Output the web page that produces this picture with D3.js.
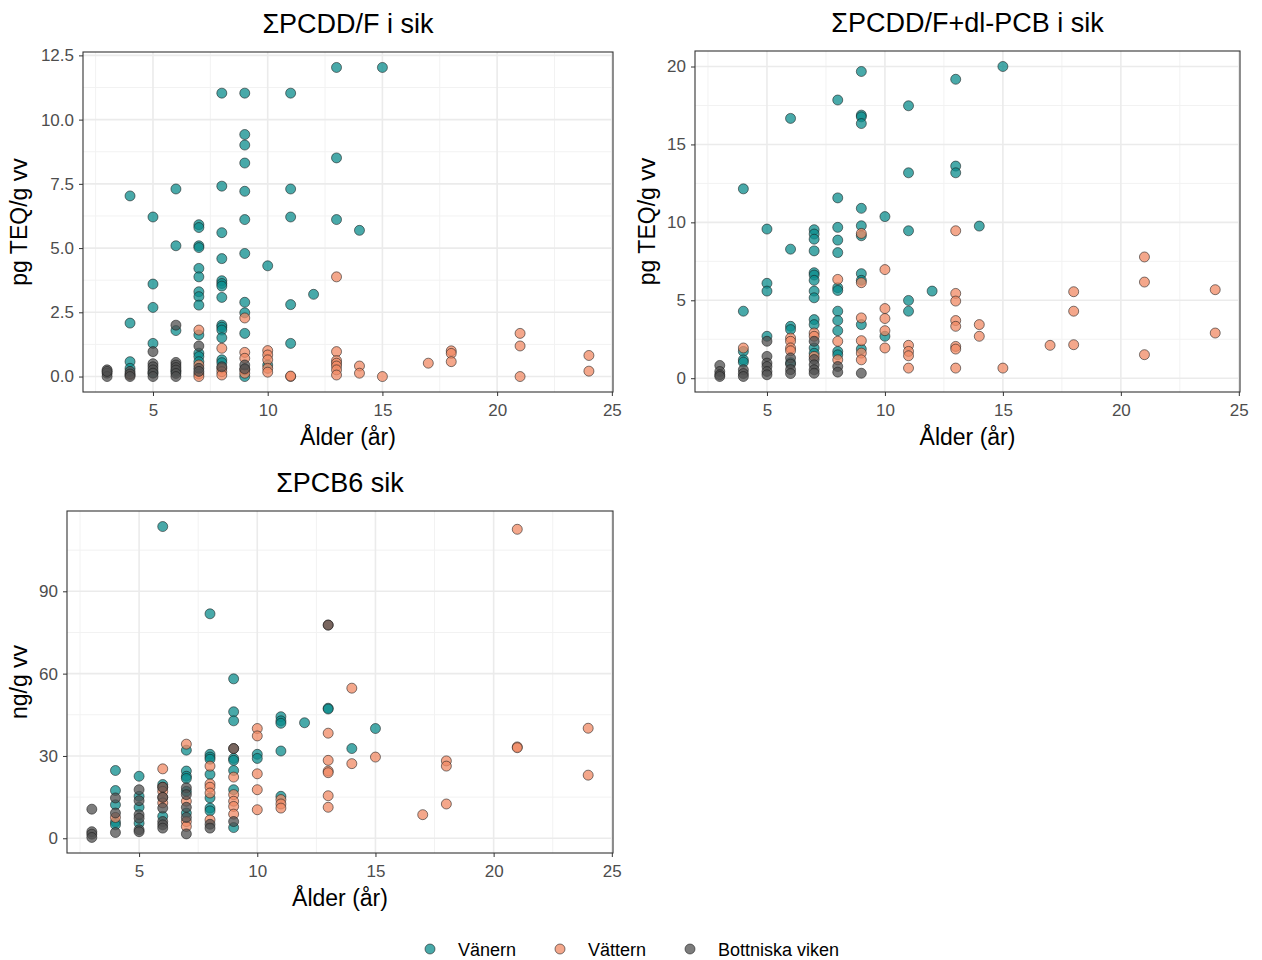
<!DOCTYPE html>
<html>
<head>
<meta charset="utf-8">
<script src="https://cdn.jsdelivr.net/npm/d3@7"></script>
<style>
body { margin:0; background:#fff; }
text { font-family: "Liberation Sans", Arial, sans-serif; }
</style>
</head>
<body>
<svg id="chart" width="1262" height="960"></svg>
<script>
// series names + colours
var groups = ["Vänern", "Vättern", "Bottniska viken"];
var fills = ["#0b8c8c", "#f08a64", "#505050"];

// ΣPCDD/F i sik, [age, pg TEQ/g vv]
var pcdd_vanern = [[4,7.03],[4,2.08],[4,0.58],[4,0.32],[5,6.21],[5,3.6],[5,2.69],[5,1.29],[5,0.15],
 [6,7.3],[6,5.09],[6,1.79],[6,0.2],[7,5.91],[7,5.8],[7,5.09],[7,5.02],[7,4.21],[7,3.88],[7,3.3],[7,3.11],[7,2.78],
 [7,1.62],[7,0.91],[7,0.78],[7,0.58],[8,11.03],[8,7.41],[8,5.6],[8,4.59],[8,3.73],[8,3.62],[8,3.52],[8,3.08],
 [8,2.0],[8,1.92],[8,1.81],[8,1.51],[8,0.65],[8,0.54],[9,11.03],[9,9.42],[9,9.01],[9,8.31],[9,7.21],[9,6.11],
 [9,4.79],[9,2.89],[9,2.48],[9,1.68],[9,0.0],[10,4.31],[10,0.45],[11,11.03],[11,7.3],[11,6.21],[11,2.8],[11,1.29],
 [12,3.2],[13,12.03],[13,8.51],[13,6.11],[14,5.69],[15,12.03]];
var pcdd_vattern = [[4,0.06],[7,1.81],[7,0.45],[7,0.1],[7,0.0],[8,1.1],[8,0.32],[8,0.19],[8,0.06],[9,2.28],[9,0.94],
 [9,0.71],[9,0.26],[9,0.13],[10,1.01],[10,0.84],[10,0.65],[10,0.32],[10,0.17],[11,0.0],[11,0.02],[13,3.88],[13,0.97],
 [13,0.62],[13,0.52],[13,0.41],[13,0.26],[13,0.06],[14,0.41],[14,0.13],[15,0.0],[17,0.52],[18,1.0],[18,0.9],[18,0.58],
 [21,1.68],[21,1.19],[21,0.0],[24,0.82],[24,0.21]];
var pcdd_bottniska = [[3,0.26],[3,0.13],[3,0.0],[3,0.2],[4,0.2],[4,0.1],[4,0.0],[5,0.97],[5,0.5],[5,0.38],[5,0.26],
 [5,0.13],[5,0.0],[6,2.0],[6,0.55],[6,0.45],[6,0.35],[6,0.25],[6,0.12],[6,0.0],[7,1.19],[7,0.32],[7,0.2],[8,0.38],
 [9,0.45],[9,0.3]];

// ΣPCDD/F+dl-PCB i sik
var teq_vanern = [[4,12.15],[4,4.3],[4,1.72],[4,1.18],[4,1.03],[5,9.57],[5,6.09],[5,5.59],[5,2.69],[6,16.67],[6,8.28],
 [6,3.33],[6,3.12],[6,1.0],[7,9.53],[7,9.25],[7,8.92],[7,8.17],[7,6.77],[7,6.62],[7,6.28],[7,5.59],[7,5.16],[7,3.76],
 [7,3.44],[7,1.94],[7,1.6],[8,17.85],[8,11.57],[8,9.68],[8,8.86],[8,8.06],[8,5.81],[8,5.63],[8,4.3],[8,3.7],[8,3.05],
 [8,1.72],[8,1.5],[9,19.68],[9,16.88],[9,16.77],[9,16.34],[9,10.9],[9,9.78],[9,9.14],[9,6.71],[9,6.28],[9,3.44],
 [9,1.87],[10,10.37],[10,2.69],[11,17.48],[11,13.18],[11,9.46],[11,4.99],[11,4.3],[12,5.59],[13,19.18],[13,13.61],
 [13,13.18],[14,9.76],[15,20.0]];
var teq_vattern = [[4,1.94],[6,2.58],[6,2.37],[6,1.94],[6,1.76],[7,2.9],[7,2.69],[7,1.4],[8,6.34],[8,2.37],[8,1.18],
 [9,9.29],[9,6.13],[9,3.87],[9,2.41],[9,1.61],[9,1.18],[10,6.97],[10,4.47],[10,3.83],[10,3.05],[10,1.94],[11,2.11],
 [11,1.72],[11,1.44],[11,0.65],[13,9.46],[13,5.44],[13,4.95],[13,3.7],[13,3.33],[13,2.04],[13,1.87],[13,0.65],
 [14,3.44],[14,2.69],[15,0.65],[17,2.11],[18,5.55],[18,4.3],[18,2.15],[21,7.78],[21,6.17],[21,1.51],[24,5.68],[24,2.9]];
var teq_bottniska = [[3,0.82],[3,0.43],[3,0.22],[3,0.11],[4,0.54],[4,0.3],[4,0.11],[5,2.37],[5,1.4],[5,0.97],[5,0.75],
 [5,0.43],[5,0.22],[6,1.3],[6,0.9],[6,0.55],[6,0.3],[7,2.37],[7,1.2],[7,0.86],[7,0.54],[7,0.32],[8,0.75],[8,0.39],
 [9,0.32]];

// ΣPCB6 sik, [age, ng/g vv]
var pcb_vanern = [[4,24.7],[4,17.4],[4,12.2],[4,5.9],[4,4.9],[5,22.6],[5,15.3],[5,11.3],[5,5.5],[6,113.6],[6,19.6],
 [6,8.0],[7,32.1],[7,24.5],[7,22.6],[7,21.8],[7,17.1],[7,9.2],[8,81.8],[8,30.6],[8,29.6],[8,28.8],[8,23.3],[8,14.7],
 [8,11.0],[8,10.0],[9,58.1],[9,46.1],[9,42.8],[9,29.1],[9,28.4],[9,24.7],[9,17.7],[9,3.9],[10,30.6],[10,29.1],
 [11,44.3],[11,42.8],[11,41.9],[11,31.8],[11,15.3],[12,42.1],[13,47.4],[13,47.1],[14,32.7],[15,40.0]];
var pcb_vattern = [[4,7.6],[6,25.3],[6,18.6],[6,17.1],[6,14.9],[6,12.9],[7,34.3],[7,13.5],[7,6.1],[7,4.3],[8,26.3],
 [8,19.8],[8,18.6],[8,16.5],[8,6.7],[9,32.7],[9,22.3],[9,15.9],[9,13.5],[9,11.6],[9,8.8],[10,40.0],[10,37.3],
 [10,23.5],[10,17.7],[10,10.4],[11,14.1],[11,12.5],[11,11.0],[13,77.7],[13,38.3],[13,28.4],[13,24.5],[13,23.9],
 [13,15.5],[13,11.3],[14,54.7],[14,27.2],[15,29.6],[17,8.6],[18,28.2],[18,26.3],[18,12.5],[21,112.6],[21,33.3],
 [21,33.0],[24,40.1],[24,23.0]];
var pcb_bottniska = [[3,10.6],[3,2.4],[3,1.5],[3,0.3],[4,14.7],[4,9.2],[4,2.1],[5,17.7],[5,13.7],[5,8.6],[5,7.3],
 [5,3.1],[5,2.4],[6,18.6],[6,14.9],[6,11.0],[6,6.1],[6,4.9],[6,3.7],[7,18.4],[7,15.9],[7,11.3],[7,7.6],[7,1.6],
 [8,5.1],[8,3.7],[9,32.7],[9,6.1],[13,77.7]];

var xTicks = [5, 10, 15, 20, 25];

var panels = [
 {title:"ΣPCDD/F i sik", ylab:"pg TEQ/g vv", ylabX:27, left:83, right:613, top:52, bottom:392,
  yTicks:[0,2.5,5,7.5,10,12.5], yFmt:d3.format(".1f"), data:[pcdd_vanern, pcdd_vattern, pcdd_bottniska]},
 {title:"ΣPCDD/F+dl-PCB i sik", ylab:"pg TEQ/g vv", ylabX:655, left:695, right:1240, top:51, bottom:392,
  yTicks:[0,5,10,15,20], yFmt:d3.format("d"), data:[teq_vanern, teq_vattern, teq_bottniska]},
 {title:"ΣPCB6 sik", ylab:"ng/g vv", ylabX:27, left:67, right:613, top:511, bottom:853,
  yTicks:[0,30,60,90], yFmt:d3.format("d"), data:[pcb_vanern, pcb_vattern, pcb_bottniska]}
];

var svg = d3.select("#chart");

function expand(ext){ var r = ext[1]-ext[0]; return [ext[0]-r*0.05, ext[1]+r*0.05]; }

panels.forEach(function(p){
 var all = [].concat(p.data[0], p.data[1], p.data[2]);
 var x = d3.scaleLinear().domain(expand(d3.extent(all, function(d){return d[0];}))).range([p.left, p.right]);
 var y = d3.scaleLinear().domain(expand(d3.extent(all, function(d){return d[1];}))).range([p.bottom, p.top]);
 var g = svg.append("g");
 var w = p.right - p.left, h = p.bottom - p.top;

 // minor grid
 var yStep = p.yTicks[1]-p.yTicks[0];
 var yMinor = p.yTicks.map(function(t){return t - yStep/2;}).concat([p.yTicks[p.yTicks.length-1]+yStep/2])
  .filter(function(t){return t > y.domain()[0] && t < y.domain()[1];});
 var xMinor = [2.5, 7.5, 12.5, 17.5, 22.5];
 g.selectAll(".ymin").data(yMinor).enter().append("line")
  .attr("x1", p.left).attr("x2", p.right).attr("y1", function(d){return y(d);}).attr("y2", function(d){return y(d);})
  .attr("stroke", "#f2f2f2").attr("stroke-width", 1);
 g.selectAll(".xmin").data(xMinor).enter().append("line")
  .attr("y1", p.top).attr("y2", p.bottom).attr("x1", function(d){return x(d);}).attr("x2", function(d){return x(d);})
  .attr("stroke", "#f2f2f2").attr("stroke-width", 1);
 // major grid
 g.selectAll(".ymaj").data(p.yTicks).enter().append("line")
  .attr("x1", p.left).attr("x2", p.right).attr("y1", function(d){return y(d);}).attr("y2", function(d){return y(d);})
  .attr("stroke", "#ebebeb").attr("stroke-width", 1.6);
 g.selectAll(".xmaj").data(xTicks.filter(function(t){return x(t) < p.right-1;})).enter().append("line")
  .attr("y1", p.top).attr("y2", p.bottom).attr("x1", function(d){return x(d);}).attr("x2", function(d){return x(d);})
  .attr("stroke", "#ebebeb").attr("stroke-width", 1.6);

 // points
 [0, 1, 2].forEach(function(k){
  g.selectAll(".pt"+k).data(p.data[k]).enter().append("circle")
   .attr("cx", function(d){return x(d[0]);}).attr("cy", function(d){return y(d[1]);})
   .attr("r", 5).attr("fill", fills[k]).attr("fill-opacity", 0.75)
   .attr("stroke", "#1a1a1a").attr("stroke-opacity", 0.8).attr("stroke-width", 0.7);
 });

 // border
 g.append("rect").attr("x", p.left).attr("y", p.top).attr("width", w).attr("height", h)
  .attr("fill", "none").attr("stroke", "#333").attr("stroke-width", 1.1);

 // axes
 var xa = g.append("g").attr("transform", "translate(0," + p.bottom + ")")
  .call(d3.axisBottom(x).tickValues(xTicks).tickSize(4).tickPadding(8));
 var ya = g.append("g").attr("transform", "translate(" + p.left + ",0)")
  .call(d3.axisLeft(y).tickValues(p.yTicks).tickFormat(p.yFmt).tickSize(4).tickPadding(5));
 [xa, ya].forEach(function(a){
  a.select(".domain").remove();
  a.selectAll("line").attr("stroke", "#333");
  a.selectAll("text").attr("fill", "#4d4d4d").style("font-size", "17px");
 });

 // titles
 g.append("text").attr("x", (p.left+p.right)/2).attr("y", p.top - 19).attr("text-anchor", "middle")
  .style("font-size", "27px").attr("fill", "#000").text(p.title);
 g.append("text").attr("x", (p.left+p.right)/2).attr("y", p.bottom + 53).attr("text-anchor", "middle")
  .style("font-size", "23px").attr("fill", "#000").text("Ålder (år)");
 g.append("text").attr("transform", "translate(" + p.ylabX + "," + ((p.top+p.bottom)/2) + ") rotate(-90)")
  .attr("text-anchor", "middle").style("font-size", "23px").attr("fill", "#000").text(p.ylab);
});

// legend
var lx = [430, 560, 690];
var leg = svg.append("g");
groups.forEach(function(name, k){
 leg.append("circle").attr("cx", lx[k]).attr("cy", 949).attr("r", 5)
  .attr("fill", fills[k]).attr("fill-opacity", 0.75).attr("stroke", "#1a1a1a").attr("stroke-opacity", 0.8).attr("stroke-width", 0.7);
 leg.append("text").attr("x", lx[k] + 28).attr("y", 956).style("font-size", "18px").attr("fill", "#000").text(name);
});
</script>
</body>
</html>
